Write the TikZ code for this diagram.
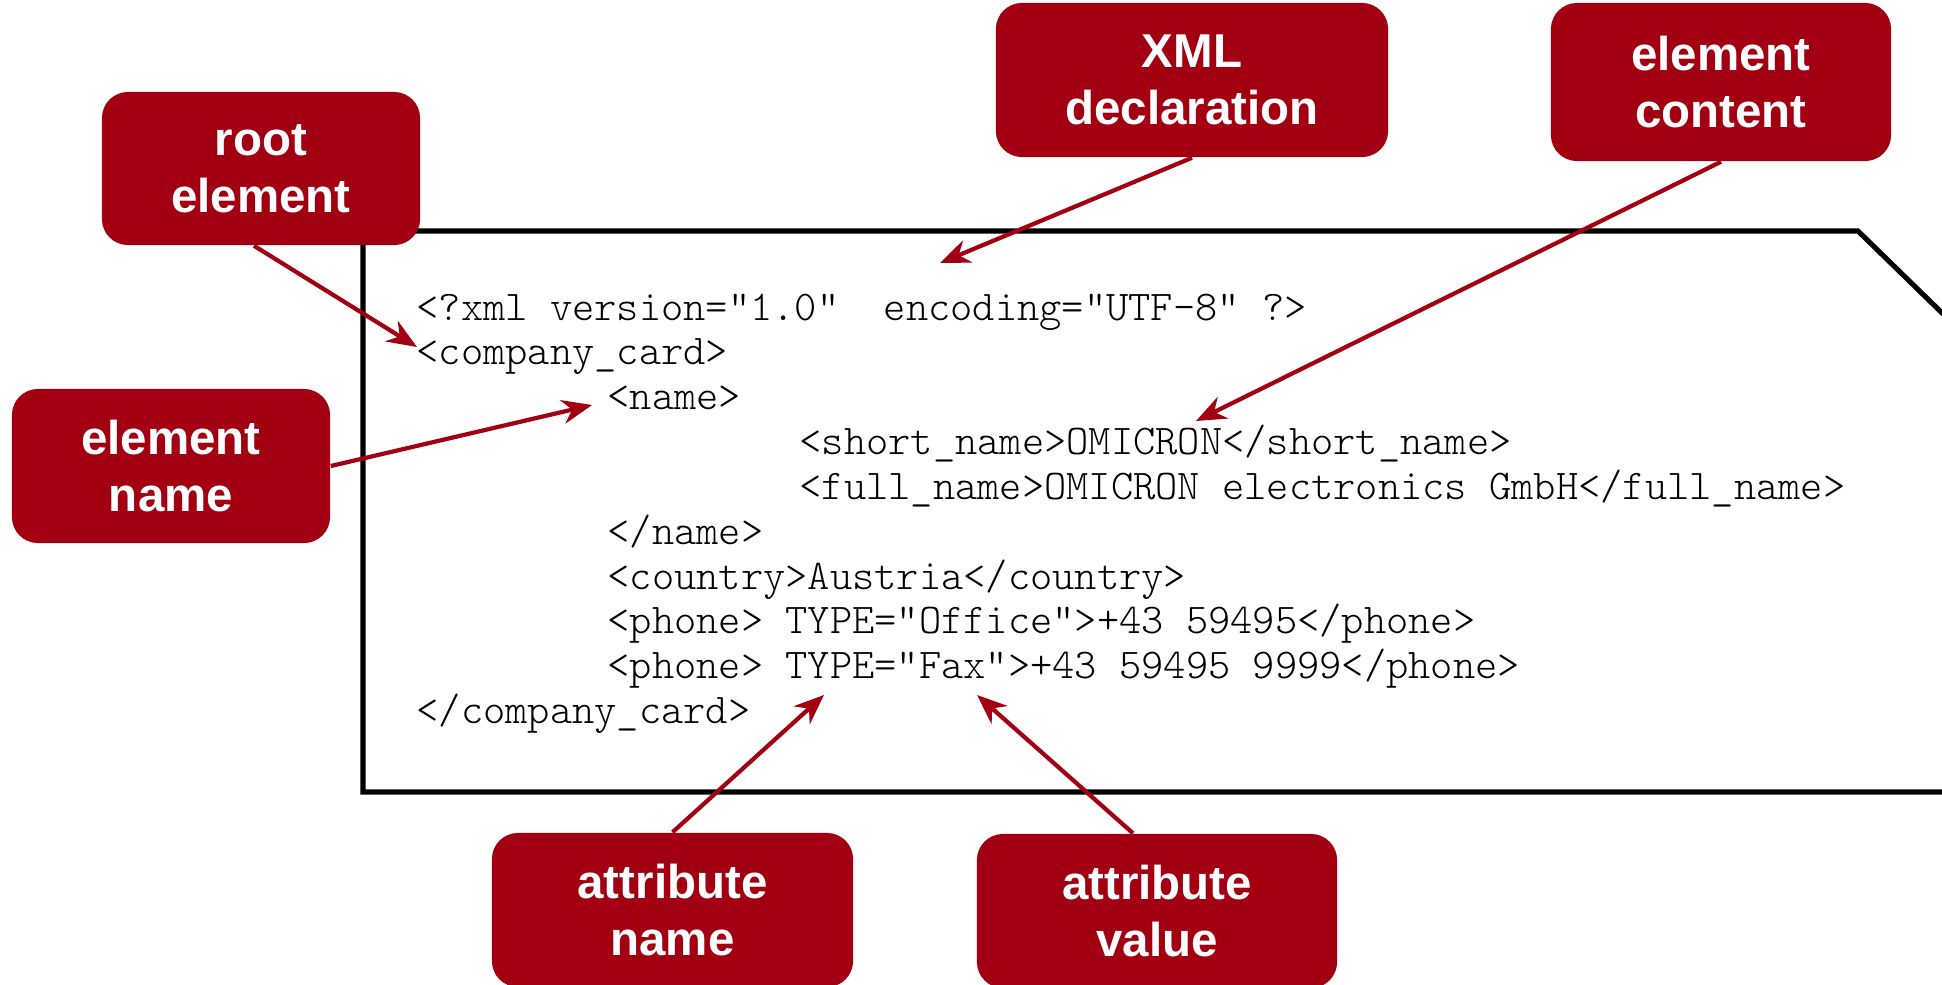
\documentclass[tikz,border=0pt]{standalone}
\usepackage{fontspec}
\setmainfont{Liberation Sans}
\setmonofont{lmmonolt10-regular.otf}
\usetikzlibrary{arrows.meta,calc}
\definecolor{callred}{HTML}{A20012}
\tikzset{
  callout/.style={fill=callred, rounded corners=0.26cm, text=white, font=\fontsize{13.5pt}{16.2pt}\selectfont\bfseries, align=center, inner sep=0pt},
  codeline/.style={anchor=base west, inner sep=0pt, font=\fontsize{12.05pt}{14pt}\selectfont\ttfamily},
  pointer/.style={draw=callred, line width=1.2pt, -{Stealth[length=0.3cm,width=0.24cm]}},
  frameline/.style={draw=black, line width=1.45pt, line join=miter}
}
\begin{document}
\begin{tikzpicture}[x=0.01cm,y=-0.01cm]
\useasboundingbox (0,0) rectangle (1942,984);
% frame
\begin{scope}
\clip (0,0) rectangle (1942,984);
\draw[frameline] (2100,792) -- (363,792) -- (363,231) -- (1858,231) -- (2100,467);
\end{scope}
% code lines
\node[codeline] (l1) at (416,320) {<?xml version="1.0"\ \ encoding="UTF-8" ?>};
\node[codeline] (l2) at (416,364.85) {<company\_card>};
\node[codeline] (l3) at (607,409.7) {<name>};
\node[codeline] (l4) at (799,454.55) {<short\_name>OMICRON</short\_name>};
\node[codeline] (l5) at (799,499.4) {<full\_name>OMICRON electronics GmbH</full\_name>};
\node[codeline] (l6) at (607,544.25) {</name>};
\node[codeline] (l7) at (607,589.1) {<country>Austria</country>};
\node[codeline] (l8) at (607,633.95) {<phone> TYPE="Office">+43 59495</phone>};
\node[codeline] (l9) at (607,678.8) {<phone> TYPE="Fax">+43 59495 9999</phone>};
\node[codeline] (l10) at (416,723.65) {</company\_card>};
% callouts
\node[callout, minimum width=3.18cm, minimum height=1.53cm] (root) at (261,168.5) {root\\element};
\node[callout, minimum width=3.18cm, minimum height=1.54cm] (ename) at (171,466) {element\\name};
\node[callout, minimum width=3.92cm, minimum height=1.54cm] (xmld) at (1192,80) {XML\\declaration};
\node[callout, minimum width=3.40cm, minimum height=1.58cm] (econt) at (1721,82) {element\\content};
\node[callout, minimum width=3.61cm, minimum height=1.54cm] (aname) at (672.5,910) {attribute\\name};
\node[callout, minimum width=3.60cm, minimum height=1.54cm] (aval) at (1157,911) {attribute\\value};
% arrow targets
\coordinate (troot) at (417,347);
\coordinate (tename) at (592,405);
\coordinate (txmld) at (940,263);
\coordinate (tecont) at (1196,421);
\coordinate (taname) at (824,695);
\coordinate (taval) at (977,695);
% arrows
\draw[pointer] ([xshift=-0.07cm]root.south) -- (troot);
\draw[pointer] (ename.east) -- (tename);
\draw[pointer] (xmld.south) -- (txmld);
\draw[pointer] (econt.south) -- (tecont);
\draw[pointer] (aname.north) -- (taname);
\draw[pointer] ([xshift=-0.24cm]aval.north) -- (taval);
\end{tikzpicture}
\end{document}
